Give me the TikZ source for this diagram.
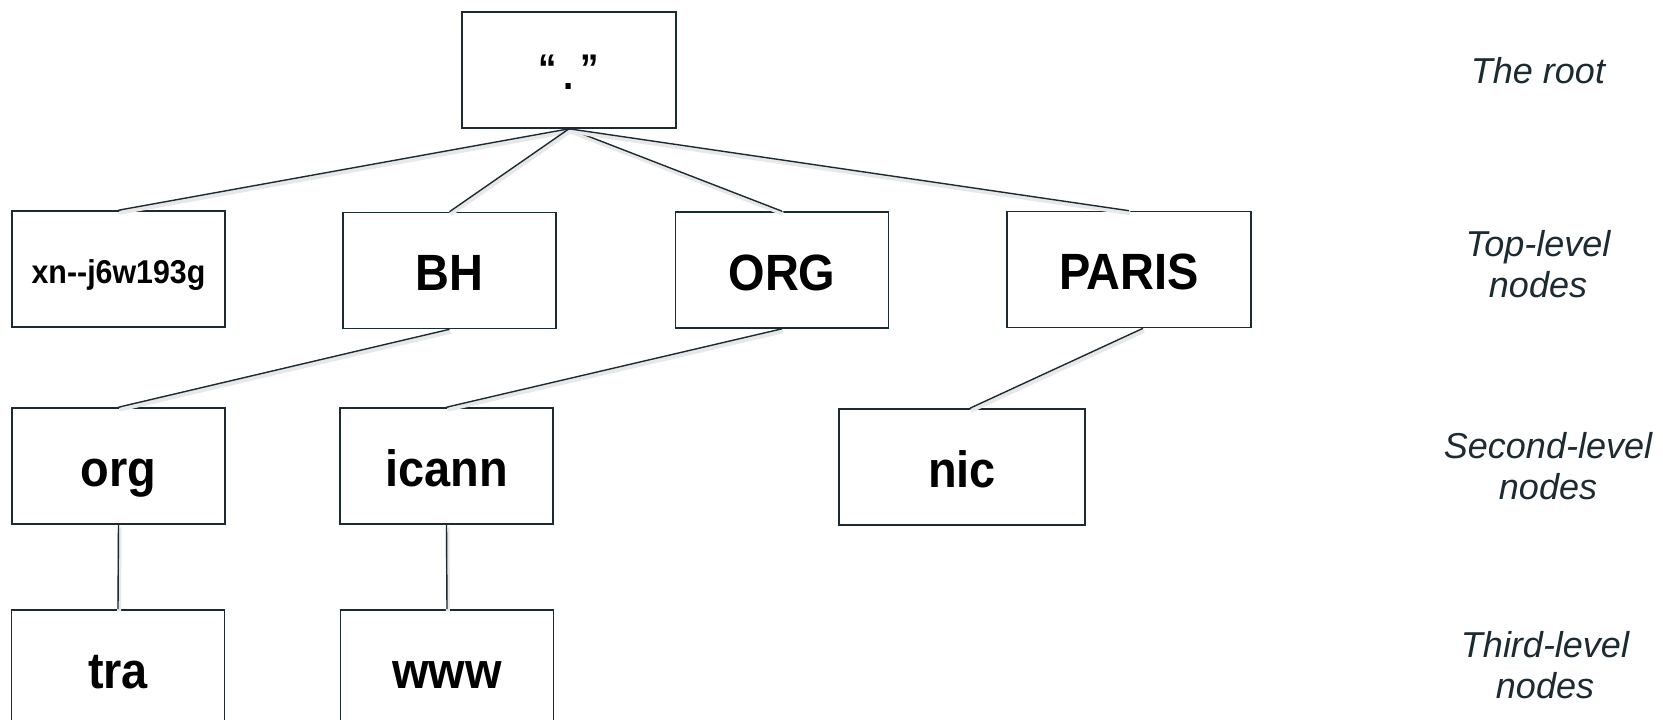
\documentclass[tikz,border=0pt]{standalone}
\usepackage{fontspec}
\setmainfont{Liberation Sans}
\newfontfamily\boxfont[FakeStretch=0.92]{Liberation Sans}
\definecolor{slate}{HTML}{1C2A31}

\begin{document}
\begin{tikzpicture}[x=1pt,y=-1pt,
    box/.style={draw=slate,line width=1.6pt,fill=white,inner sep=0pt,
      minimum width=213pt,minimum height=116pt,text height=50pt,text depth=10pt,
      font=\fontsize{51}{58}\boxfont\bfseries},
    link/.style={draw=slate,line width=1.4pt,
      preaction={draw=black!9,line width=4pt,transform canvas={shift={(1pt,-2.5pt)}}}},
    level/.style={text=slate,align=center,font=\fontsize{36}{41}\selectfont\itshape}]
    \path[use as bounding box,clip] (0,0) rectangle (1663,720);

    % the tree
    \node[box,minimum width=214pt,text height=34pt,font=\fontsize{40}{46}\boxfont\bfseries]
      (root) at (569,70) {“\,\raisebox{-7pt}{.}\,”};
    \node[box,text height=38pt,font=\fontsize{33}{38}\boxfont\bfseries] (xn) at (118.5,269) {xn-{}-j6w193g};
    \node[box] (BH) at (449.5,270.5) {BH};
    \node[box] (ORG) at (782,270) {ORG};
    \node[box,minimum width=244pt] (PARIS) at (1129,269.5) {PARIS};
    \node[box] (org) at (118.5,466) {org};
    \node[box] (icann) at (446.5,466) {icann};
    \node[box,minimum width=246pt] (nic) at (962,467) {nic};
    \node[box] (tra) at (118,668) {tra};
    \node[box] (www) at (447,668) {www};

    \draw[link] (root.south) -- (xn.north);
    \draw[link] (root.south) -- (BH.north);
    \draw[link] (root.south) -- (ORG.north);
    \draw[link] (root.south) -- (PARIS.north);
    \draw[link] (BH.south) -- (org.north);
    \draw[link] (ORG.south) -- (icann.north);
    \draw[link] ([xshift=14pt]PARIS.south) -- ([xshift=8pt]nic.north);
    \draw[link] (org.south) -- (tra.north);
    \draw[link] (icann.south) -- (www.north);

    % levels
    \node[level] (lroot) at (1538,71) {The root};
    \node[level] (ltop) at (1538,264) {Top-level\\nodes};
    \node[level] (lsecond) at (1548,466) {Second-level\\nodes};
    \node[level] (lthird) at (1545,665) {Third-level\\nodes};
\end{tikzpicture}
\end{document}
